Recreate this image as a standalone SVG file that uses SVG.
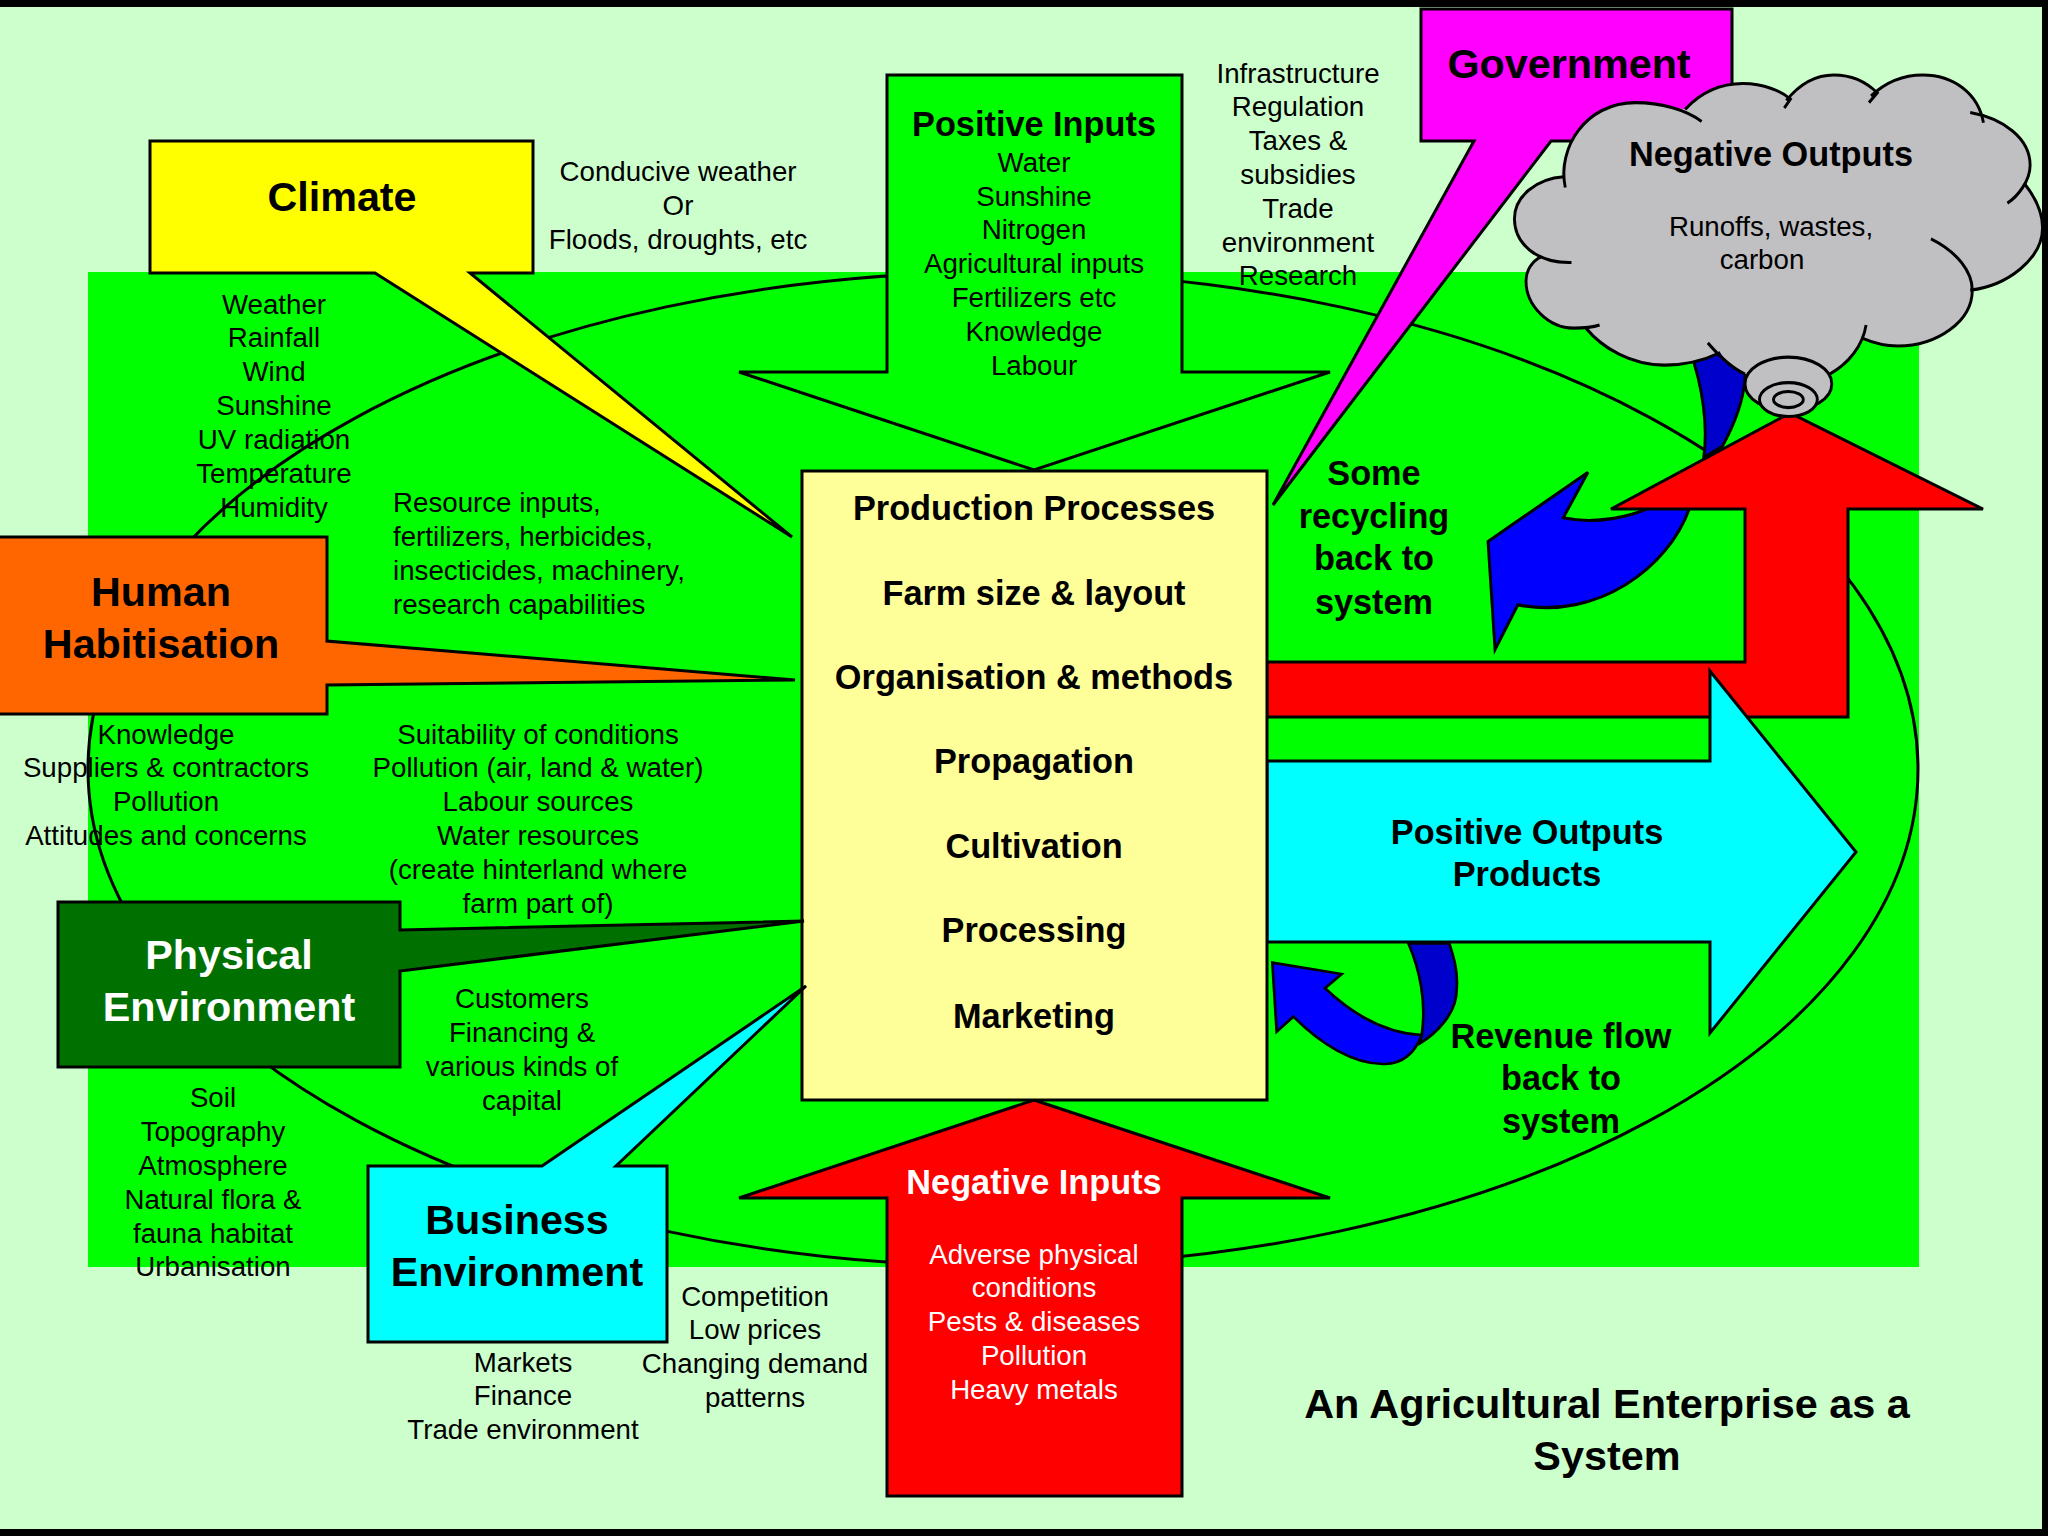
<svg xmlns="http://www.w3.org/2000/svg" width="2048" height="1536" viewBox="0 0 2048 1536">
<style>
text{font-family:"Liberation Sans",Arial,sans-serif;text-anchor:middle;fill:#000}
.s{stroke:#000;stroke-width:3;stroke-linejoin:miter}
.r{font-size:27.7px}
.b{font-size:34.3px;font-weight:bold}
.t{font-size:41.3px;font-weight:bold}
.w{fill:#fff}
.l{text-anchor:start}
</style>
<rect width="2048" height="1536" fill="#000"/>
<rect x="0" y="7" width="2042" height="1522" fill="#CCFFCC"/>
<rect x="88" y="272" width="1831" height="995" fill="#00FF00"/>
<g id="connectors">
<ellipse cx="1003" cy="769" rx="915" ry="497" fill="none" stroke="#000" stroke-width="3"/>
<g transform="translate(1400,0) scale(.4132,.4464)" stroke="#000" stroke-width="7">
<path d="M700,780C735,870 745,960 735,1025L780,1000C810,950 830,900 835,850L835,780Z" fill="#0000CC"/>
<path d="M700,1140C650,1270 480,1390 285,1355L230,1455L213,1213L455,1058L395,1160C470,1175 560,1160 620,1130Z" fill="#0000FF"/>
</g>
</g>
<g id="recycle-output">
<path class="s" fill="#FF0000" d="M1267,662H1745V509H1611L1790,413L1983,509H1848V717H1267Z"/>
</g>
<g id="positive-outputs">
<path class="s" fill="#00FFFF" d="M1267,761H1710V671L1856,852L1710,1033V942H1267Z"/>
<text class="b" x="1527" y="844">Positive Outputs</text>
<text class="b" x="1527" y="886">Products</text>
</g>
<g id="revenue-arrow" transform="translate(1240,900) scale(.3333)" stroke="#000" stroke-width="8">
<path d="M505,130C540,210 560,310 545,405L540,430C590,400 650,340 650,270C655,210 640,170 628,130Z" fill="#0000CC"/>
<path d="M545,405C440,400 340,345 255,265L305,222L97,188L110,395L160,350C240,430 340,495 435,492C490,490 525,460 545,405Z" fill="#0000FF"/>
</g>
<g id="climate">
<path class="s" fill="#FFFF00" d="M150,141H533V273H470L792,537L375,273H150Z"/>
<text class="t" x="342" y="211">Climate</text>
</g>
<g id="government">
<path class="s" fill="#FF00FF" d="M1421,9H1732V141H1551L1273,505L1474,141H1421Z"/>
<text class="t" x="1569" y="78">Government</text>
</g>
<g id="negative-outputs">
<g transform="translate(1400,0) scale(.4132,.4464)">
<path fill="#C0BFC2" d="M390,395C395,300 480,230 570,230C610,230 660,240 690,245C730,205 780,187 830,187C870,187 910,200 940,220C970,185 1010,168 1050,168C1090,168 1120,180 1145,205C1180,180 1220,168 1265,168C1340,168 1400,210 1410,260C1460,265 1525,310 1525,370C1525,385 1520,400 1512,412C1540,445 1555,480 1555,510C1555,580 1470,640 1380,650L1385,650C1385,720 1300,775 1205,775C1175,775 1145,768 1120,758C1100,800 1075,820 1040,838L835,838C805,825 790,810 775,790C730,810 690,818 640,818C560,818 490,780 450,735C440,735 430,735 420,735C360,735 305,685 305,630C305,605 320,585 342,575C300,560 277,525 277,490C277,440 330,400 390,395Z"/>
<g fill="none" stroke="#000" stroke-width="7">
<path d="M415,588C330,590 277,545 277,490C277,440 330,400 397,396"/>
<path d="M400,420C380,330 450,230 570,230C630,230 690,245 730,272"/>
<path d="M690,245C730,205 780,187 830,187C880,187 925,205 945,222L930,242"/>
<path d="M935,225C970,185 1010,168 1050,168C1095,168 1130,185 1155,208L1135,230"/>
<path d="M1140,215C1180,180 1220,168 1265,168C1340,168 1400,210 1412,275"/>
<path d="M1380,252C1460,265 1525,310 1525,370C1525,405 1495,440 1470,455"/>
<path d="M1512,412C1540,445 1555,480 1555,510C1555,580 1470,640 1380,650"/>
<path d="M1285,535C1350,565 1385,610 1385,650C1385,720 1300,775 1205,775C1175,775 1145,768 1120,758"/>
<path d="M1128,728C1120,775 1085,815 1040,838"/>
<path d="M835,838C805,825 770,795 745,768"/>
<path d="M775,790C730,810 690,818 640,818C560,818 490,780 450,735"/>
<path d="M483,728C460,735 440,735 420,735C360,735 305,685 305,630C305,605 320,585 342,575"/>
</g>
<g fill="#C0BFC2" stroke="#000" stroke-width="7">
<ellipse cx="940" cy="860" rx="105" ry="60"/>
<ellipse cx="940" cy="895" rx="70" ry="38"/>
<ellipse cx="940" cy="895" rx="36" ry="18"/>
</g>
</g>
<text class="b" x="1771" y="166">Negative Outputs</text>
<text class="r" x="1771" y="236">Runoffs, wastes,</text>
<text class="r" x="1762" y="269">carbon</text>
</g>
<g id="positive-inputs">
<path class="s" fill="#00FF00" d="M887,75H1182V372H1330L1034,470L739,372H887Z"/>
<text class="b" x="1034" y="136">Positive Inputs</text>
<g class="r"><text x="1034" y="172">Water</text><text x="1034" y="206">Sunshine</text><text x="1034" y="239">Nitrogen</text><text x="1034" y="273">Agricultural inputs</text><text x="1034" y="307">Fertilizers etc</text><text x="1034" y="341">Knowledge</text><text x="1034" y="375">Labour</text></g>
</g>
<g id="negative-inputs">
<path class="s" fill="#FF0000" d="M1034,1100L1330,1198H1182V1496H887V1198H739Z"/>
<text class="b w" x="1034" y="1194">Negative Inputs</text>
<g class="r"><text class="w" x="1034" y="1264">Adverse physical</text><text class="w" x="1034" y="1297">conditions</text><text class="w" x="1034" y="1331">Pests &amp; diseases</text><text class="w" x="1034" y="1365">Pollution</text><text class="w" x="1034" y="1399">Heavy metals</text></g>
</g>
<g id="production">
<rect class="s" x="802" y="471" width="465" height="629" fill="#FFFF99"/>
<g class="b"><text x="1034" y="520">Production Processes</text><text x="1034" y="605">Farm size &amp; layout</text><text x="1034" y="689">Organisation &amp; methods</text><text x="1034" y="773">Propagation</text><text x="1034" y="858">Cultivation</text><text x="1034" y="942">Processing</text><text x="1034" y="1028">Marketing</text></g>
</g>
<g id="human-habitisation">
<path class="s" fill="#FF6600" d="M-3,537H327V641L795,680L327,685V714H-3Z"/>
<text class="t" x="161" y="606">Human</text>
<text class="t" x="161" y="658">Habitisation</text>
</g>
<g id="physical-environment">
<path class="s" fill="#007000" d="M58,902H400V930L804,921L400,971V1067H58Z"/>
<text class="t w" x="229" y="969">Physical</text>
<text class="t w" x="229" y="1021">Environment</text>
</g>
<g id="business-environment">
<path class="s" fill="#00FFFF" d="M368,1166H542L806,986L616,1166H667V1342H368Z"/>
<text class="t" x="517" y="1234">Business</text>
<text class="t" x="517" y="1286">Environment</text>
</g>
<g id="labels">
<g class="r"><text x="678" y="181">Conducive weather</text><text x="678" y="215">Or</text><text x="678" y="249">Floods, droughts, etc</text></g>
<g class="r"><text x="1298" y="83">Infrastructure</text><text x="1298" y="116">Regulation</text><text x="1298" y="150">Taxes &amp;</text><text x="1298" y="184">subsidies</text><text x="1298" y="218">Trade</text><text x="1298" y="252">environment</text><text x="1298" y="285">Research</text></g>
<g class="r"><text x="274" y="314">Weather</text><text x="274" y="347">Rainfall</text><text x="274" y="381">Wind</text><text x="274" y="415">Sunshine</text><text x="274" y="449">UV radiation</text><text x="274" y="483">Temperature</text><text x="274" y="517">Humidity</text></g>
<g class="r"><text class="l" x="393" y="512">Resource inputs,</text><text class="l" x="393" y="546">fertilizers, herbicides,</text><text class="l" x="393" y="580">insecticides, machinery,</text><text class="l" x="393" y="614">research capabilities</text></g>
<g class="r"><text x="166" y="744">Knowledge</text><text x="166" y="777">Suppliers &amp; contractors</text><text x="166" y="811">Pollution</text><text x="166" y="845">Attitudes and concerns</text></g>
<g class="r"><text x="538" y="744">Suitability of conditions</text><text x="538" y="777">Pollution (air, land &amp; water)</text><text x="538" y="811">Labour sources</text><text x="538" y="845">Water resources</text><text x="538" y="879">(create hinterland where</text><text x="538" y="913">farm part of)</text></g>
<g class="r"><text x="522" y="1008">Customers</text><text x="522" y="1042">Financing &amp;</text><text x="522" y="1076">various kinds of</text><text x="522" y="1110">capital</text></g>
<g class="r"><text x="213" y="1107">Soil</text><text x="213" y="1141">Topography</text><text x="213" y="1175">Atmosphere</text><text x="213" y="1209">Natural flora &amp;</text><text x="213" y="1243">fauna habitat</text><text x="213" y="1276">Urbanisation</text></g>
<g class="r"><text x="523" y="1372">Markets</text><text x="523" y="1405">Finance</text><text x="523" y="1439">Trade environment</text></g>
<g class="r"><text x="755" y="1306">Competition</text><text x="755" y="1339">Low prices</text><text x="755" y="1373">Changing demand</text><text x="755" y="1407">patterns</text></g>
<g class="b"><text x="1374" y="485">Some</text><text x="1374" y="528">recycling</text><text x="1374" y="570">back to</text><text x="1374" y="614">system</text></g>
<g class="b"><text x="1561" y="1048">Revenue flow</text><text x="1561" y="1090">back to</text><text x="1561" y="1133">system</text></g>
<g style="font-size:41.4px;font-weight:bold"><text x="1607" y="1418">An Agricultural Enterprise as a</text><text x="1607" y="1470">System</text></g>
</g>
</svg>
